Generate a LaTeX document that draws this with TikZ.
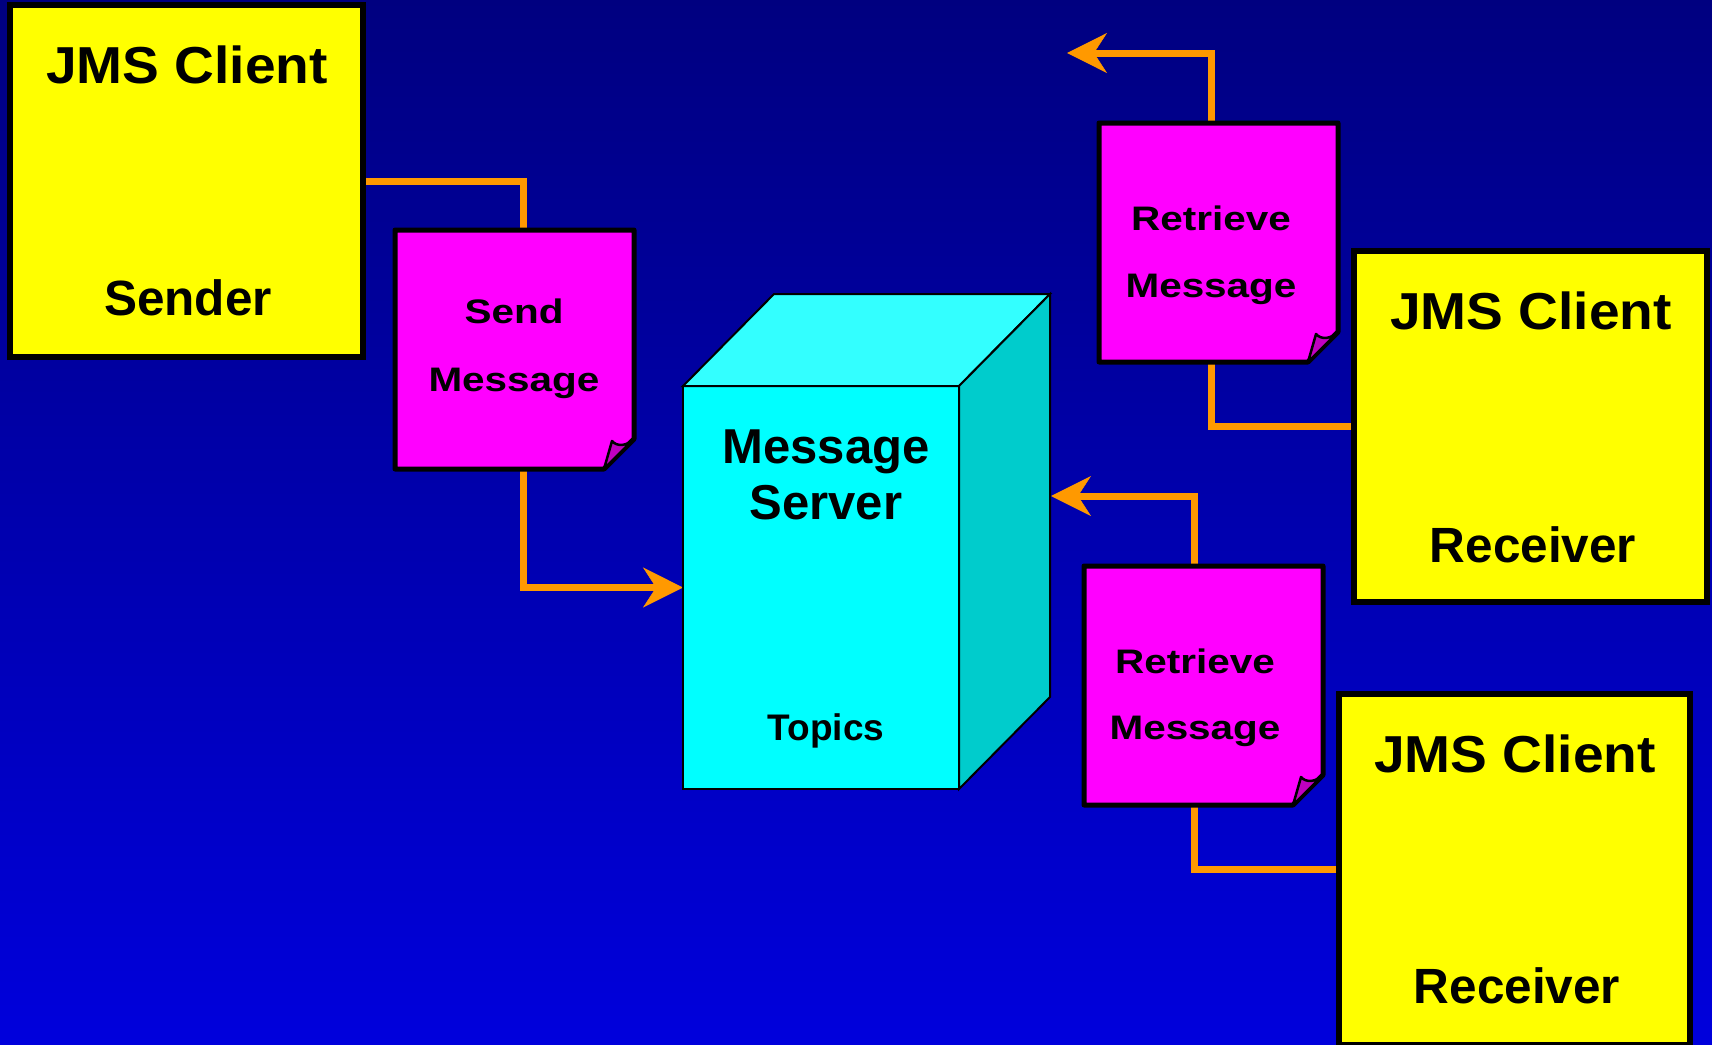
\documentclass[tikz,border=0pt]{standalone}
\usepackage{fontspec}
\setmainfont{Liberation Sans}
\newfontfamily\notefont[FakeStretch=1.19]{Liberation Sans}
\newfontfamily\titlefont[FakeStretch=1.06]{Liberation Sans}
\usetikzlibrary{arrows.meta,calc}

\definecolor{bgtop}{RGB}{0,0,128}
\definecolor{bgbot}{RGB}{0,0,220}
\definecolor{clientyellow}{RGB}{255,255,0}
\definecolor{notemag}{RGB}{255,0,255}
\definecolor{notefold}{RGB}{192,0,192}
\definecolor{srvfront}{RGB}{0,255,255}
\definecolor{srvtop}{RGB}{51,255,255}
\definecolor{srvside}{RGB}{0,204,204}
\definecolor{wire}{RGB}{255,153,0}

\pgfdeclarelayer{bg}
\pgfdeclarelayer{wires}
\pgfsetlayers{bg,wires,main}

% message sheet with a curled lower right corner, drawn round node #1
\newcommand\drawnote[1]{%
  \filldraw[notemag, draw=black, line width=5pt, line join=round]
    (#1.north west) -- (#1.north east) -- ([yshift=30pt]#1.south east)
    -- ([xshift=-30pt]#1.south east) -- (#1.south west) -- cycle;
  \filldraw[fill=notefold, draw=black, line width=2.5pt, line join=round]
    ([xshift=-30pt]#1.south east) -- ([xshift=-22pt,yshift=28pt]#1.south east)
    .. controls ([xshift=-17pt,yshift=22pt]#1.south east) and ([xshift=-7pt,yshift=23pt]#1.south east)
    .. ([yshift=30pt]#1.south east) -- cycle;
}

\begin{document}
\begin{tikzpicture}[x=1pt,y=-1pt,
  client/.style={draw=black, line width=6pt, fill=clientyellow, inner sep=0pt,
    outer sep=0pt, anchor=north west, minimum width=353pt, minimum height=351pt},
  sheet/.style={inner sep=0pt, outer sep=0pt, anchor=north west,
    minimum width=239pt, minimum height=239pt},
  bigtext/.style={anchor=base, inner sep=0pt, font=\titlefont\bfseries\fontsize{52}{60}\selectfont},
  midtext/.style={anchor=base, inner sep=0pt, font=\bfseries\fontsize{49.5}{56}\selectfont},
  notetext/.style={anchor=base, inner sep=0pt, font=\notefont\bfseries\fontsize{34}{40}\selectfont},
  srvedge/.style={draw=black, line width=2pt, line join=miter},
  link/.style={draw=wire, line width=7pt, line cap=butt, line join=miter},
  tip/.style={-{Stealth[length=40pt,width=40pt,inset=13pt,line width=0.5pt]}}
]
\useasboundingbox (0,0) rectangle (1712,1044);
\begin{pgfonlayer}{bg}
  \fill[top color=bgtop, bottom color=bgbot] (0,0) rectangle (1712,1044);
\end{pgfonlayer}

% clients
\node[client, minimum height=352pt] (sender) at (10,5) {};
\node[client] (recv1) at (1354,251) {};
\node[client, minimum width=351pt] (recv2) at (1339,694) {};

% message sheets
\node[sheet] (sendnote) at (395,230) {};
\node[sheet] (rnote1) at (1099,123) {};
\node[sheet] (rnote2) at (1084,566) {};
\drawnote{sendnote}
\drawnote{rnote1}
\drawnote{rnote2}

% message server cube
\node[srvedge, fill=srvfront, inner sep=0pt, outer sep=0pt, anchor=north west,
  minimum width=276pt, minimum height=403pt] (cube) at (683,386) {};
\filldraw[srvedge, fill=srvtop] (cube.north west) -- ++(91,-92) -- ++(276,0)
  -- (cube.north east) -- cycle;
\filldraw[srvedge, fill=srvside] (cube.north east) -- ++(91,-92) -- ++(0,403)
  -- (cube.south east) -- cycle;
\coordinate (srvport) at ($(cube.north east)+(92,110)$);
\coordinate (upout) at (1067,53);

% connectors
\begin{pgfonlayer}{wires}
  \draw[link] (sender.east) -| ([xshift=8.5pt]sendnote.north);
  \draw[link, tip] ([xshift=8.5pt]sendnote.south) |- (cube.west);
  \draw[link, tip] ([xshift=-7.5pt]rnote1.north) |- (upout);
  \draw[link] ([xshift=-7.5pt]rnote1.south) |- (recv1.west);
  \draw[link, tip] ([xshift=-9pt]rnote2.north) |- (srvport);
  \draw[link] ([xshift=-9pt]rnote2.south) |- (recv2.west);
\end{pgfonlayer}

% labels
\node[bigtext] (sender-t) at (187,83) {JMS Client};
\node[midtext] (sender-r) at (188,315) {Sender};
\node[bigtext] (recv1-t) at (1531,329) {JMS Client};
\node[midtext] (recv1-r) at (1533,562) {Receiver};
\node[bigtext] (recv2-t) at (1515,772) {JMS Client};
\node[midtext] (recv2-r) at (1517,1003) {Receiver};

\node[notetext] (send-a) at (514,323) {Send};
\node[notetext] (send-b) at (514,391) {Message};
\node[notetext] (r1-a) at (1211,230) {Retrieve};
\node[notetext] (r1-b) at (1211,297) {Message};
\node[notetext] (r2-a) at (1195,673) {Retrieve};
\node[notetext] (r2-b) at (1195,739) {Message};

\node[anchor=base, inner sep=0pt, font=\bfseries\fontsize{49}{56}\selectfont] (srv-a) at (826,463) {Message};
\node[anchor=base, inner sep=0pt, font=\bfseries\fontsize{49}{56}\selectfont] (srv-b) at (826,519) {Server};
\node[anchor=base, inner sep=0pt, font=\bfseries\fontsize{37}{44}\selectfont] (srv-c) at (826,740) {Topics};
\end{tikzpicture}
\end{document}
